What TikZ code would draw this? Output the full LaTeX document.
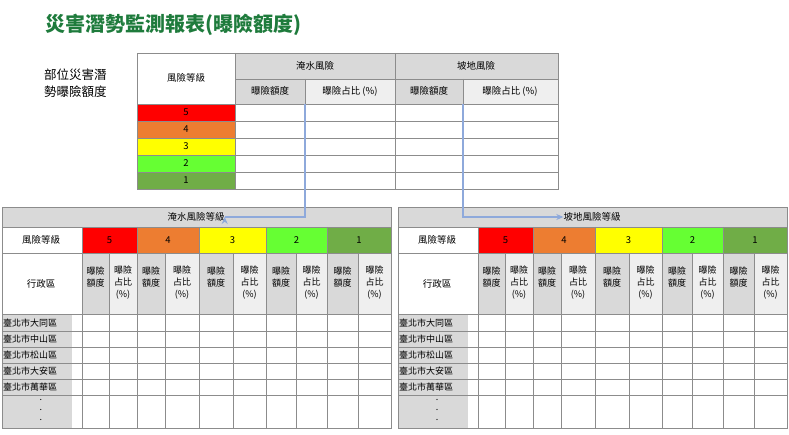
\documentclass[tikz,border=0pt]{standalone}
\usepackage{fontspec}
\setmainfont{Noto Sans CJK TC}
\usetikzlibrary{arrows.meta}
\definecolor{hg}{HTML}{D9D9D9}
\definecolor{hl}{HTML}{EFEFEF}
\definecolor{ln}{HTML}{8C8C8C}
\definecolor{tg}{HTML}{1E7B3C}
\definecolor{c5}{HTML}{FF0000}
\definecolor{c4}{HTML}{ED7D31}
\definecolor{c3}{HTML}{FFFF00}
\definecolor{c2}{HTML}{66FF33}
\definecolor{c1}{HTML}{70AD47}
\definecolor{ab}{HTML}{8EA9DB}
\tikzset{cell/.style={draw=ln,line width=0.6pt},
 txt/.style={font=\fontsize{9.5}{11}\selectfont,inner sep=0pt,align=center},
 arr/.style={draw=ab,line width=1.4pt,-{Stealth[length=7pt,width=6pt]}}}
\newcommand{\cbox}[6]{% x1 y1 x2 y2 fill name/text
 \fill[#5] (#1,#2) rectangle (#3,#4);}
\begin{document}
\begin{tikzpicture}[x=1pt,y=-1pt]
\useasboundingbox (0,0) rectangle (789,435);
\node[anchor=west,text=tg,font=\fontsize{20}{22}\selectfont\bfseries,inner sep=0pt] (title) at (45,25) {災害潛勢監測報表(曝險額度)};
\node[anchor=west,font=\fontsize{12.5}{17}\selectfont,align=left,inner sep=0pt] (side) at (44,83) {部位災害潛\\勢曝險額度};
% ---------- top table
\fill[hg] (235,53) rectangle (558,79);
\fill[hg] (235,79) rectangle (305,104);
\fill[hl] (305,79) rectangle (395,104);
\fill[hg] (395,79) rectangle (463,104);
\fill[hl] (463,79) rectangle (558,104);
\foreach \c/\a/\b in {c5/104/121,c4/121/138,c3/138/155,c2/155/172,c1/172/189}
  \fill[\c] (137,\a) rectangle (235,\b);
\draw[ln,line width=0.6pt] (137,53) rectangle (558,189);
\draw[ln,line width=0.6pt] (235,53) -- (235,189) (395,53) -- (395,189) (305,79) -- (305,189) (463,79) -- (463,189);
\draw[ln,line width=0.6pt] (235,79) -- (558,79);
\foreach \y in {104,121,138,155,172} \draw[ln,line width=0.6pt] (137,\y) -- (558,\y);
\node[txt] (tlev) at (186,78) {風險等級};
\node[txt] (tflood) at (315,66) {淹水風險};
\node[txt] (tslope) at (476,66) {坡地風險};
\node[txt] (ta1) at (270,91) {曝險額度};
\node[txt] (tp1) at (350,91) {曝險占比 (\%)};
\node[txt] (ta2) at (429,91) {曝險額度};
\node[txt] (tp2) at (510,91) {曝險占比 (\%)};
\foreach \n/\y in {5/112.5,4/129.5,3/146.5,2/163.5,1/180.5} \node[txt] (tl\n) at (186,\y) {\n};
% ---------- bottom tables
\foreach \ox/\ttl/\id in {0/淹水風險等級/L,396/坡地風險等級/R}{
 \begin{scope}[xshift=\ox]
 \fill[hg] (2,207) rectangle (391,227);
 \fill[c5] (82,227) rectangle (137,253);
 \fill[c4] (137,227) rectangle (199,253);
 \fill[c3] (199,227) rectangle (266,253);
 \fill[c2] (266,227) rectangle (327,253);
 \fill[c1] (327,227) rectangle (391,253);
 \foreach \a/\b in {82/109,137/165,199/233,266/296,327/358} \fill[hg] (\a,253) rectangle (\b,314);
 \foreach \a/\b in {109/137,165/199,233/266,296/327,358/391} \fill[hl] (\a,253) rectangle (\b,314);
 \fill[hg] (2,314) rectangle (72,428);
 \draw[ln,line width=0.6pt] (2,207) rectangle (391,428);
 \foreach \y in {227,253,314} \draw[ln,line width=0.6pt] (2,\y) -- (391,\y);
 \foreach \y in {331,347,363,379,395} \draw[ln,line width=0.6pt] (2,\y) -- (391,\y);
 \foreach \x in {82,137,199,266,327} \draw[ln,line width=0.6pt] (\x,227) -- (\x,428);
 \foreach \x in {109,165,233,296,358} \draw[ln,line width=0.6pt] (\x,253) -- (\x,428);
 \node[txt] (bt\id) at (196,217) {\ttl};
 \node[txt] (blev\id) at (41,240) {風險等級};
 \foreach \n/\x in {5/109.5,4/168,3/232.5,2/296.5,1/359} \node[txt] (bn\id\n) at (\x,240) {\n};
 \node[txt] (bd\id) at (41,284) {行政區};
 \foreach \a/\b in {82/109,137/165,199/233,266/296,327/358}{
   \node[txt,font=\fontsize{9}{12}\selectfont] at ({(\a+\b)/2},277) {曝險\\額度};}
 \foreach \a/\b in {109/137,165/199,233/266,296/327,358/391}{
   \node[txt,font=\fontsize{9}{12}\selectfont] at ({(\a+\b)/2},283) {曝險\\占比\\(\%)};}
 \foreach \t/\y in {臺北市大同區/323,臺北市中山區/339,臺北市松山區/355,臺北市大安區/371,臺北市萬華區/387}
   \node[txt,anchor=west,font=\fontsize{9}{11}\selectfont] at (3,\y) {\t};
 \foreach \y in {403,413,423} \node[txt,font=\fontsize{9}{10}\selectfont] at (41,\y-3) {.};
 \end{scope}}
% ---------- arrows
\coordinate (s1) at (305,104);
\coordinate (s2) at (463,104);
\draw[arr] (s1) |- (btL.east) ++(0,0);
\draw[arr] (s2) |- (btR.west);
\end{tikzpicture}
\end{document}
